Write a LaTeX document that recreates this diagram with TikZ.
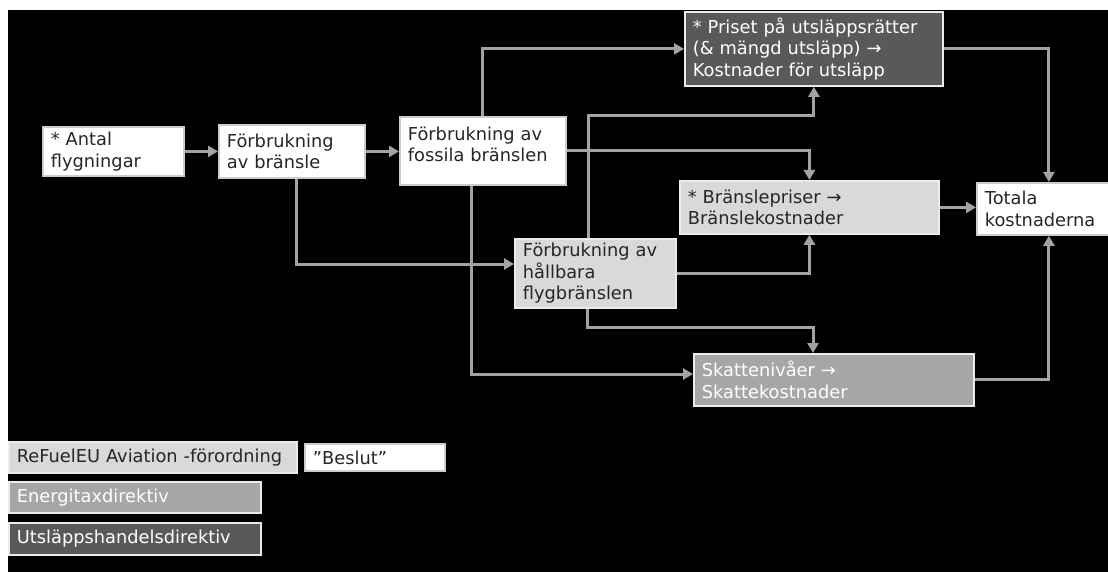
\documentclass[tikz,border=0pt]{standalone}
\usepackage{fontspec}
\setmainfont{DejaVu Sans}
\usetikzlibrary{arrows.meta}
\definecolor{darkfill}{HTML}{595959}
\definecolor{midfill}{HTML}{A6A6A6}
\definecolor{lightfill}{HTML}{D9D9D9}
\definecolor{linkgray}{HTML}{A3A3A3}
\definecolor{textdark}{HTML}{262626}
\tikzstyle{box}=[draw=white!80!black,line width=1.8pt,anchor=north west,
                 align=left,inner xsep=8pt,inner ysep=2pt,
                 font=\fontsize{17.8}{21.5}\selectfont,text=textdark]
\tikzstyle{whitebox}=[box,fill=white]
\tikzstyle{lightbox}=[box,fill=lightfill,draw=white!92!black]
\tikzstyle{midbox}=[box,fill=midfill,draw=white!92!black,text=white]
\tikzstyle{darkbox}=[box,fill=darkfill,draw=white!92!black,text=white]
\tikzstyle{link}=[draw=linkgray,line width=3pt,
                  -{Triangle[length=10pt,width=11pt]}]

\begin{document}
\begin{tikzpicture}[x=1pt,y=-1pt]
    \useasboundingbox (0,0) rectangle (1108,572);
    \fill[white] (0,0) rectangle (1108,572);
    \fill[black] (8,10) rectangle (1108,572);
    % flow boxes
    \node (antal) at (42,126) [whitebox,minimum width=141pt,text width=125pt,
        minimum height=49pt]{* Antal\\flygningar};
    \node (fbr) at (218,124) [whitebox,minimum width=146pt,text width=130pt,
        minimum height=53pt]{Förbrukning\\av bränsle};
    \node (fos) at (399,116) [whitebox,minimum width=166pt,text width=150pt,
        minimum height=68pt]{Förbrukning av\\fossila bränslen\\[-8pt]~};
    \node (pu) at (684,11) [darkbox,minimum width=258pt,text width=242pt,
        minimum height=74pt]{* Priset på utsläppsrätter\\(\& mängd utsläpp) →\\Kostnader för utsläpp};
    \node (bp) at (679,180) [lightbox,minimum width=259pt,text width=243pt,
        minimum height=53pt]{* Bränslepriser →\\Bränslekostnader};
    \node (tk) at (976,182) [whitebox,minimum width=144pt,text width=128pt,
        minimum height=52pt]{Totala\\kostnaderna};
    \node (fh) at (514,238) [lightbox,minimum width=161pt,text width=145pt,
        minimum height=69pt]{Förbrukning av\\hållbara\\flygbränslen};
    \node (sk) at (693,353) [midbox,minimum width=280pt,text width=264pt,
        minimum height=52pt]{Skattenivåer →\\Skattekostnader};
    % legend
    \node (l1) at (8,441) [lightbox,minimum width=288pt,text width=272pt,
        minimum height=31pt]{ReFuelEU Aviation -förordning};
    \node (l2) at (304,443) [whitebox,minimum width=140pt,text width=124pt,
        minimum height=27pt]{”Beslut”};
    \node (l3) at (8,481) [midbox,minimum width=252pt,text width=236pt,
        minimum height=31pt]{Energitaxdirektiv};
    \node (l4) at (8,522) [darkbox,minimum width=252pt,text width=236pt,
        minimum height=32pt]{Utsläppshandelsdirektiv};
    % bends
    \coordinate (c1) at (296,264);
    \coordinate (c2) at (471,374);
    \coordinate (c3) at (588,116);
    \coordinate (c4) at (587,327);
    \coordinate (c5) at (813,327);
    % connectors
    \draw[link] (antal.east) -- (fbr.west);
    \draw[link] (fbr.east) -- (fbr.east -| fos.west);
    \draw[link] (fbr.south -| c1) -- (c1) -- (c1 -| fh.west);
    \draw[link] (fos.north) |- (pu.west);
    \draw[link] (fos.east) -| (bp.north);
    \draw[link] (fos.south -| c2) -- (c2) -- (c2 -| sk.west);
    \draw[link] (fh.north -| c3) -- (c3) -| (pu.south);
    \draw[link] (fh.east) -| (bp.south);
    \draw[link] (fh.south -| c4) -- (c4) -- (c5) -- (c5 |- sk.north);
    \draw[link] (pu.east) -| (tk.north);
    \draw[link] (bp.east) -- (bp.east -| tk.west);
    \draw[link] (sk.east) -| (tk.south);
  \end{tikzpicture}
\end{document}
